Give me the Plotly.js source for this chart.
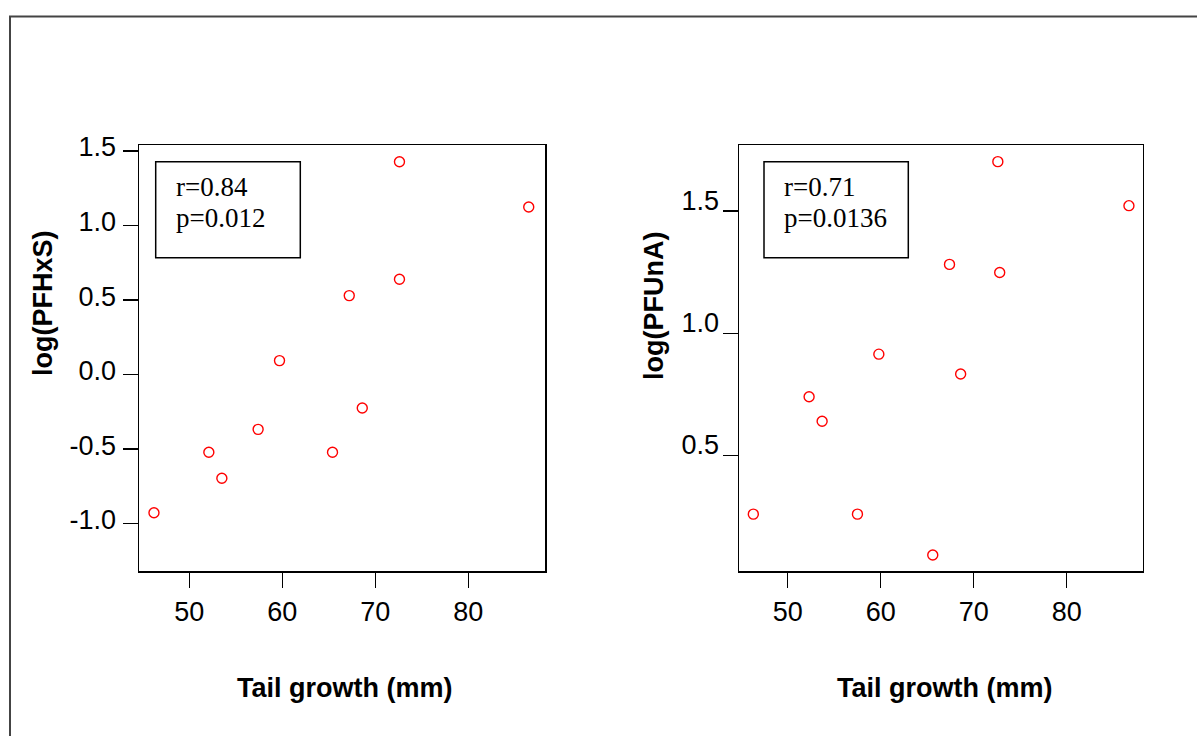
<!DOCTYPE html>
<html>
<head>
<meta charset="utf-8">
<script src="https://cdn.plot.ly/plotly-3.0.1.min.js"></script>
<style>html,body{margin:0;padding:0;background:#fff;}#chart{width:1197px;height:736px;}</style>
</head>
<body>
<div id="chart"></div>
<script>
// Data
const tailGrowthA = [46.2, 52.1, 53.5, 57.4, 59.7, 65.4, 67.2, 68.6, 72.6, 72.6, 86.5];
const logPFHxS   = [-0.926, -0.521, -0.695, -0.367, 0.094, -0.521, 0.530, -0.224, 1.428, 0.640, 1.124];
const tailGrowthB = [46.3, 52.3, 53.7, 57.5, 59.8, 65.6, 67.4, 68.6, 72.6, 72.8, 86.7];
const logPFUnA   = [0.261, 0.741, 0.641, 0.261, 0.915, 0.094, 1.282, 0.834, 1.702, 1.249, 1.522];
const xTicks = [50, 60, 70, 80];
const yTicksA = [-1.0, -0.5, 0.0, 0.5, 1.0, 1.5];
const yTicksAText = ["-1.0", "-0.5", "0.0", "0.5", "1.0", "1.5"];
const yTicksB = [0.5, 1.0, 1.5];
const yTicksBText = ["0.5", "1.0", "1.5"];
const statsA = ["r=0.84", "p=0.012"];
const statsB = ["r=0.71", "p=0.0136"];
const xLabel = "Tail growth (mm)";
const yLabelA = "log(PFHxS)";
const yLabelB = "log(PFUnA)";

const W = 1197, H = 736;
const px = v => v / W;
const py = v => 1 - v / H;

const marker = {symbol: 'circle-open', size: 10, color: '#ff0000', line: {width: 1.4, color: '#ff0000'}};
const traces = [
  {x: tailGrowthA, y: logPFHxS, type: 'scatter', mode: 'markers', marker: marker, xaxis: 'x', yaxis: 'y', hoverinfo: 'skip'},
  {x: tailGrowthB, y: logPFUnA, type: 'scatter', mode: 'markers', marker: marker, xaxis: 'x2', yaxis: 'y2', hoverinfo: 'skip'}
];

const tickFont = {family: 'Liberation Sans, Arial, sans-serif', size: 27, color: '#000'};
function xAxis(domain, range, anchor) {
  return {domain: domain, range: range, anchor: anchor, showgrid: false, zeroline: false,
    showline: true, mirror: true, linecolor: '#000', linewidth: 1.5,
    ticks: 'outside', ticklen: 15, tickwidth: 1.5, tickcolor: '#000',
    tickmode: 'array', tickvals: xTicks, ticktext: xTicks.map(String),
    tickfont: tickFont, ticklabelstandoff: 1};
}
function yAxis(domain, range, anchor, vals, text, shift, standoff) {
  return {domain: domain, range: range, anchor: anchor, showgrid: false, zeroline: false,
    showline: true, mirror: true, linecolor: '#000', linewidth: 1.5,
    ticks: 'outside', ticklen: 15, tickwidth: 1.5, tickcolor: '#000',
    tickmode: 'array', tickvals: vals, ticktext: text,
    tickfont: tickFont, ticklabelstandoff: standoff, ticklabelshift: shift};
}

const yDom = [py(571), py(145)];
const layout = {
  width: W, height: H,
  margin: {l: 0, r: 0, t: 0, b: 0, pad: 0},
  paper_bgcolor: '#fff', plot_bgcolor: '#fff',
  showlegend: false,
  xaxis: xAxis([px(139), px(545)], [44.59, 88.25], 'y'),
  yaxis: yAxis(yDom, [-1.317, 1.540], 'x', yTicksA, yTicksAText, -4, 1),
  xaxis2: xAxis([px(739), px(1142.7)], [44.76, 88.18], 'y2'),
  yaxis2: yAxis(yDom, [0.0286, 1.770], 'x2', yTicksB, yTicksBText, -11, -2),
  shapes: [
    {type: 'path', xref: 'paper', yref: 'paper',
     path: 'M ' + px(10) + ' ' + py(736) + ' L ' + px(10) + ' ' + py(16.5) + ' L ' + px(1197) + ' ' + py(16.5),
     line: {color: '#444', width: 2}},
    {type: 'rect', xref: 'paper', yref: 'paper', x0: px(155.7), x1: px(300.3), y0: py(257.7), y1: py(161.7),
     line: {color: '#000', width: 1.5}},
    {type: 'rect', xref: 'paper', yref: 'paper', x0: px(764), x1: px(908.3), y0: py(257.7), y1: py(161.7),
     line: {color: '#000', width: 1.5}}
  ],
  annotations: []
};

const serif = {family: 'Liberation Serif, Times New Roman, serif', size: 27, color: '#000'};
const bold = {family: 'Liberation Sans, Arial, sans-serif', size: 27, color: '#000', weight: 'bold'};
function stat(x, y, t) {
  return {xref: 'paper', yref: 'paper', x: px(x), y: py(y), xanchor: 'left', yanchor: 'middle', text: t, showarrow: false, font: serif};
}
layout.annotations.push(stat(174, 187, statsA[0]));
layout.annotations.push(stat(174, 218, statsA[1]));
layout.annotations.push(stat(782, 187, statsB[0]));
layout.annotations.push(stat(782, 218, statsB[1]));
function title(x, y, t, rot) {
  return {xref: 'paper', yref: 'paper', x: px(x), y: py(y), xanchor: 'center', yanchor: 'middle', text: '<b>' + t + '</b>', textangle: rot, showarrow: false, font: bold};
}
layout.annotations.push(title(345, 688, xLabel, 0));
layout.annotations.push(title(945, 688, xLabel, 0));
layout.annotations.push(title(43, 303, yLabelA, -90));
layout.annotations.push(title(654, 306, yLabelB, -90));

Plotly.newPlot('chart', traces, layout, {displayModeBar: false, staticPlot: true});
</script>
</body>
</html>
